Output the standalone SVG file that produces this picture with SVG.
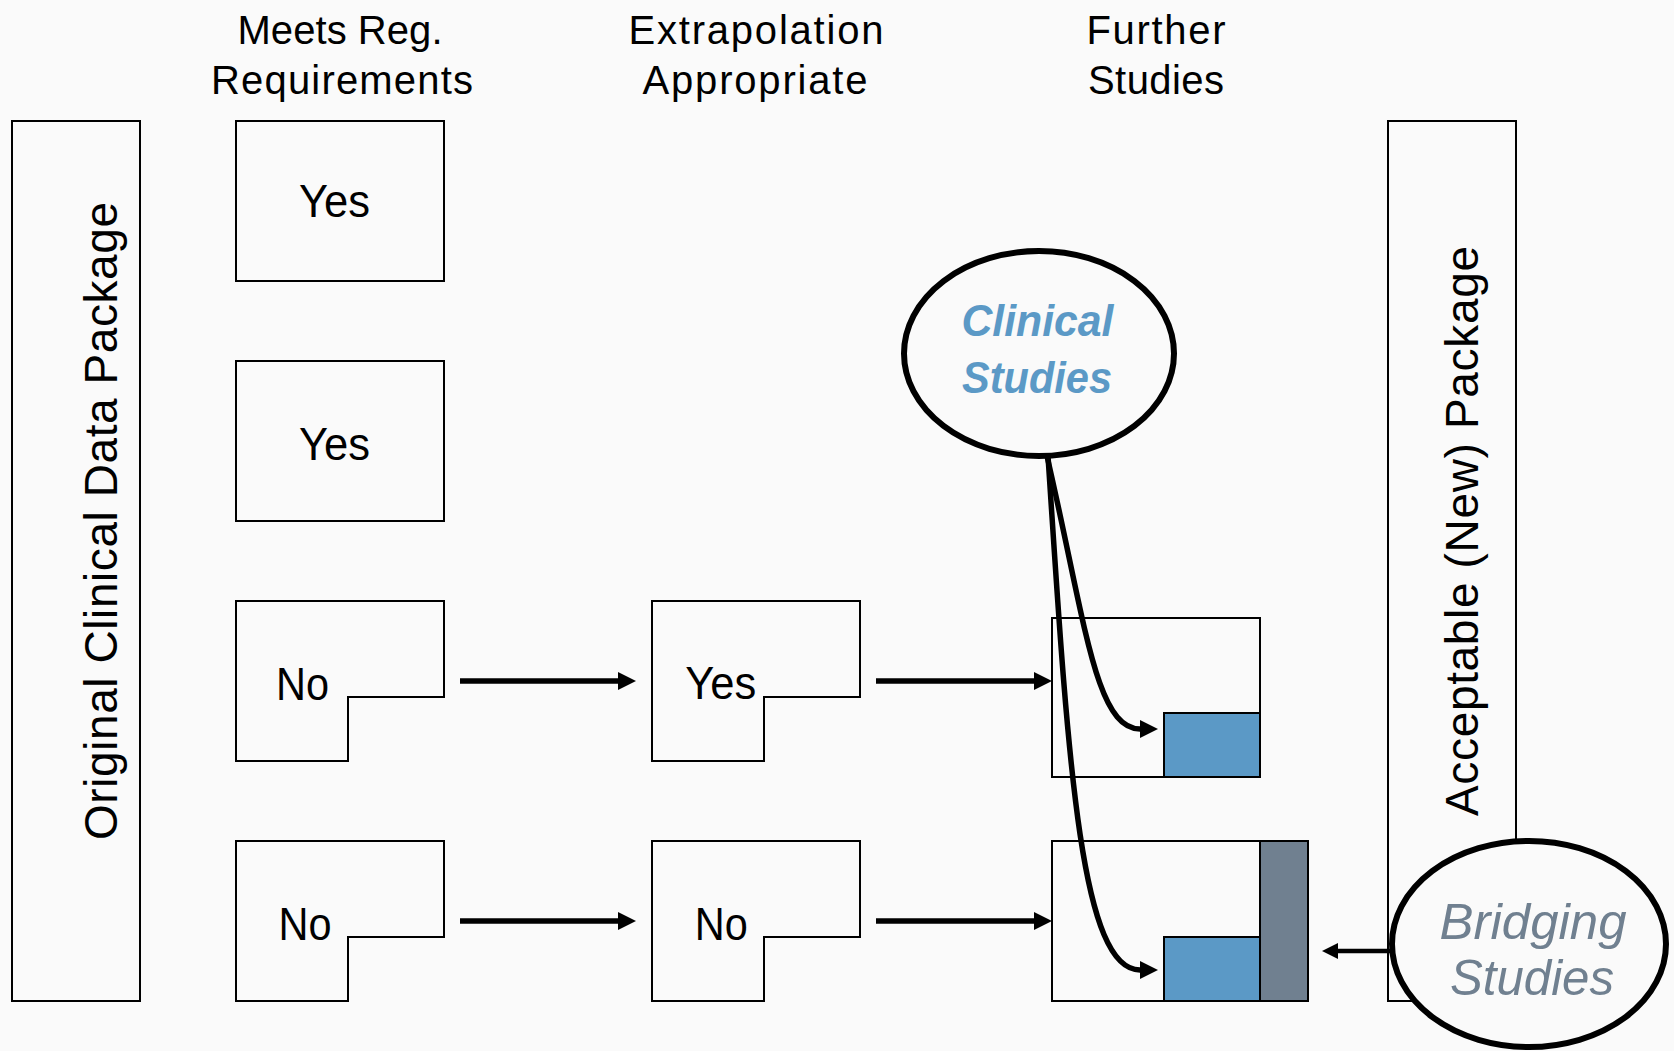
<svg xmlns="http://www.w3.org/2000/svg" width="1674" height="1051" viewBox="0 0 1674 1051">
<defs>
<style>
.box{fill:#FAFAFA;stroke:#000;stroke-width:2}
.lbl{font-family:"Liberation Sans",Arial,sans-serif;fill:#000;text-anchor:middle}
.hdr{font-size:40px}
.yn{font-size:46px}
.side{font-size:46px}
.oval{fill:#FAFAFA;stroke:#000;stroke-width:6}
.conn{fill:none;stroke:#000;stroke-width:5.5}
.thin{fill:none;stroke:#000;stroke-width:4.5}
.blue{fill:#5B99C6;stroke:#000;stroke-width:2}
.gray{fill:#708090;stroke:#000;stroke-width:2}
.clin{font-family:"Liberation Sans",Arial,sans-serif;font-weight:bold;font-style:italic;font-size:44px;fill:#5B99C6;text-anchor:middle}
.brid{font-family:"Liberation Sans",Arial,sans-serif;font-style:italic;font-size:50px;fill:#708090;text-anchor:middle}
</style>
<marker id="ah" markerUnits="userSpaceOnUse" markerWidth="18" markerHeight="18" viewBox="0 0 18 18" refX="0" refY="9" orient="auto">
<path d="M0,0 L18,9 L0,18 z" fill="#000"/>
</marker>
<marker id="ahs" markerUnits="userSpaceOnUse" markerWidth="16" markerHeight="16" viewBox="0 0 16 16" refX="0" refY="8" orient="auto">
<path d="M0,0 L16,8 L0,16 z" fill="#000"/>
</marker>
</defs>
<rect x="0" y="0" width="1674" height="1051" fill="#FAFAFA"/>

<g id="headers">
<text class="lbl hdr" x="340" y="44" textLength="205" lengthAdjust="spacing">Meets Reg.</text>
<text class="lbl hdr" x="342" y="94" textLength="262" lengthAdjust="spacing">Requirements</text>
<text class="lbl hdr" x="756" y="44" textLength="255" lengthAdjust="spacing">Extrapolation</text>
<text class="lbl hdr" x="755" y="94" textLength="225" lengthAdjust="spacing">Appropriate</text>
<text class="lbl hdr" x="1156" y="44" textLength="139" lengthAdjust="spacing">Further</text>
<text class="lbl hdr" x="1156" y="94" textLength="136" lengthAdjust="spacing">Studies</text>
</g>

<g id="original-package">
<rect class="box" x="12" y="121" width="128" height="880"/>
<text class="lbl side" transform="translate(117,521) rotate(-90)" x="0" y="0" textLength="638" lengthAdjust="spacing">Original Clinical Data Package</text>
</g>

<g id="acceptable-package">
<rect class="box" x="1388" y="121" width="128" height="880"/>
<text class="lbl side" transform="translate(1478,531) rotate(-90)" x="0" y="0" textLength="570" lengthAdjust="spacing">Acceptable (New) Package</text>
</g>

<g id="meets-yes-1">
<rect class="box" x="236" y="121" width="208" height="160"/>
<text class="lbl yn" x="334.5" y="217" textLength="71" lengthAdjust="spacingAndGlyphs">Yes</text>
</g>
<g id="meets-yes-2">
<rect class="box" x="236" y="361" width="208" height="160"/>
<text class="lbl yn" x="334.5" y="460" textLength="71" lengthAdjust="spacingAndGlyphs">Yes</text>
</g>
<g id="meets-no-1">
<path class="box" d="M236,601 H444 V697 H348 V761 H236 Z"/>
<text class="lbl yn" x="302.5" y="699.5" textLength="53" lengthAdjust="spacingAndGlyphs">No</text>
</g>
<g id="meets-no-2">
<path class="box" d="M236,841 H444 V937 H348 V1001 H236 Z"/>
<text class="lbl yn" x="305" y="940" textLength="53" lengthAdjust="spacingAndGlyphs">No</text>
</g>

<g id="extrap-yes">
<path class="box" d="M652,601 H860 V697 H764 V761 H652 Z"/>
<text class="lbl yn" x="720.7" y="699" textLength="71" lengthAdjust="spacingAndGlyphs">Yes</text>
</g>
<g id="extrap-no">
<path class="box" d="M652,841 H860 V937 H764 V1001 H652 Z"/>
<text class="lbl yn" x="721.2" y="940" textLength="53" lengthAdjust="spacingAndGlyphs">No</text>
</g>

<g id="further-1">
<rect class="box" x="1052" y="618" width="208" height="159"/>
<rect class="blue" x="1164" y="713" width="96" height="64"/>
</g>
<g id="further-2">
<rect class="box" x="1052" y="841" width="208" height="160"/>
<rect class="blue" x="1164" y="937" width="96" height="64"/>
<rect class="gray" x="1260" y="841" width="48" height="160"/>
</g>

<g id="clinical-studies">
<ellipse class="oval" cx="1039" cy="353.5" rx="135" ry="102.5"/>
<text class="clin" x="1037.5" y="336" textLength="152" lengthAdjust="spacingAndGlyphs">Clinical</text>
<text class="clin" x="1037" y="393" textLength="150" lengthAdjust="spacingAndGlyphs">Studies</text>
</g>

<g id="bridging-studies">
<ellipse class="oval" cx="1529" cy="944" rx="137" ry="103"/>
<text class="brid" x="1533" y="939" textLength="187" lengthAdjust="spacingAndGlyphs">Bridging</text>
<text class="brid" x="1532" y="995" textLength="164" lengthAdjust="spacingAndGlyphs">Studies</text>
</g>

<g id="connectors">
<line class="conn" x1="460" y1="681" x2="618" y2="681" marker-end="url(#ah)"/>
<line class="conn" x1="876" y1="681" x2="1034" y2="681" marker-end="url(#ah)"/>
<line class="conn" x1="460" y1="921" x2="618" y2="921" marker-end="url(#ah)"/>
<line class="conn" x1="876" y1="921" x2="1034" y2="921" marker-end="url(#ah)"/>
<path class="conn" d="M1047,456 C1085,620 1095,729 1140,729" marker-end="url(#ah)"/>
<path class="conn" d="M1048,456 C1068,760 1080,970 1140,970" marker-end="url(#ah)"/>
<line class="thin" x1="1391" y1="951" x2="1338" y2="951" marker-end="url(#ahs)"/>
</g>
</svg>
